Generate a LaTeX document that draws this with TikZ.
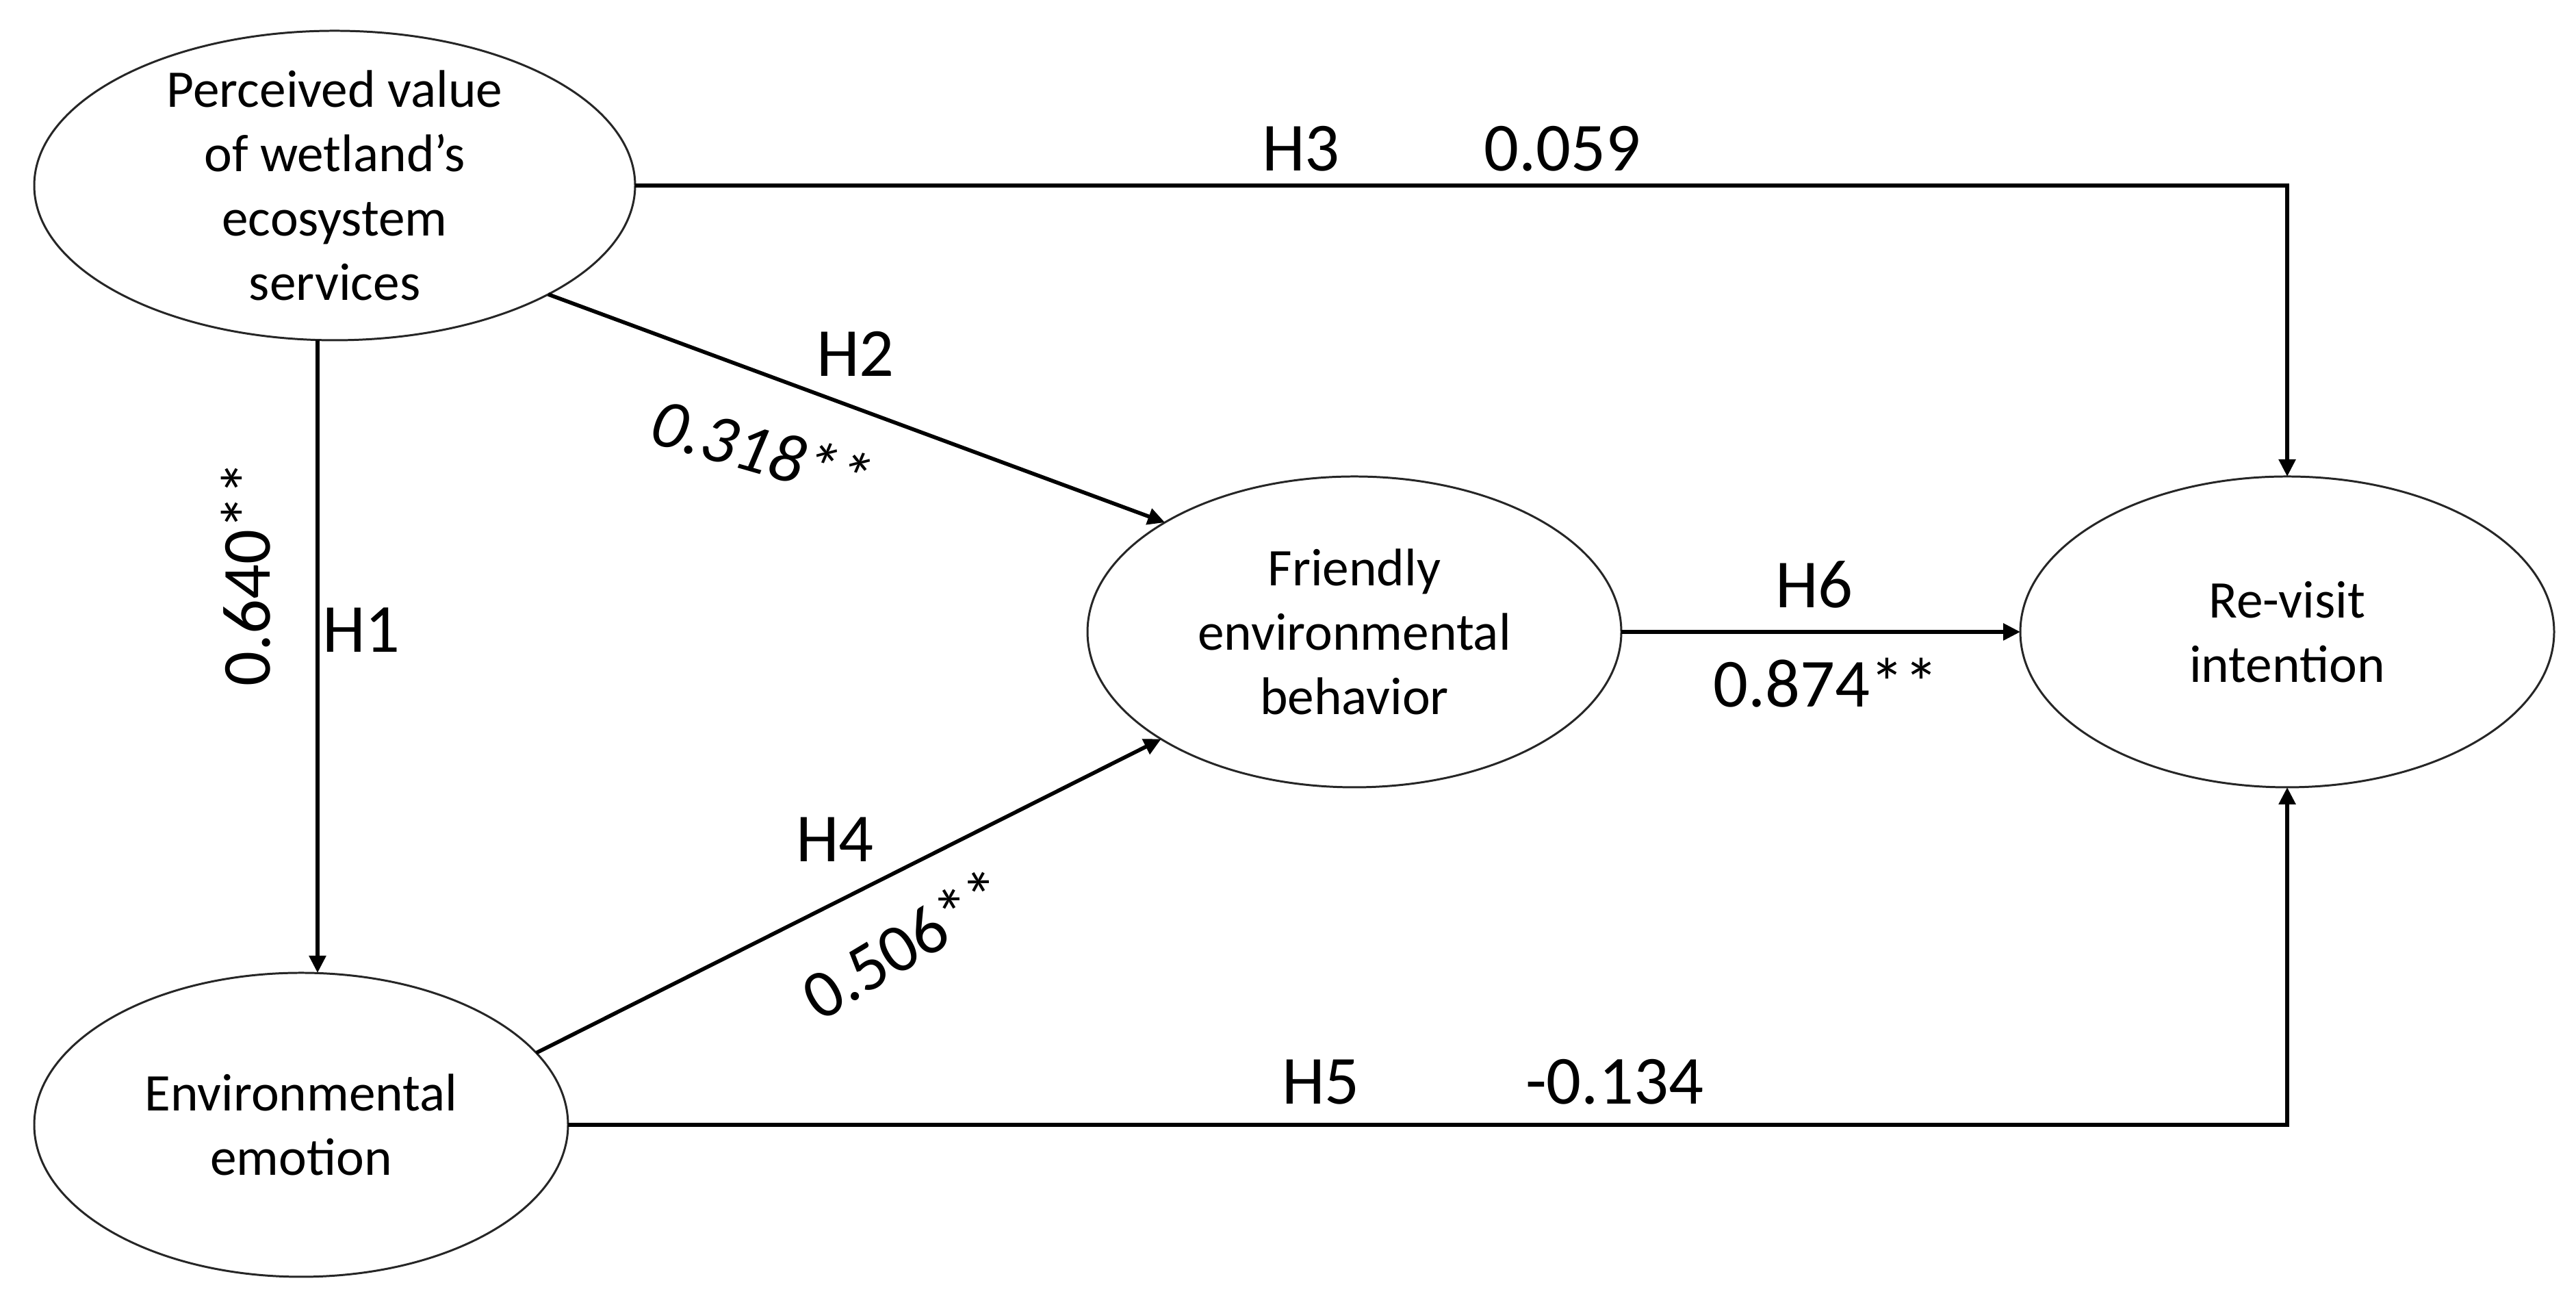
\documentclass[tikz,border=0pt]{standalone}
\usepackage{fontspec}
\setmainfont{Carlito}
\usetikzlibrary{arrows.meta,shapes.geometric}
\tikzset{
  latent/.style={draw=black!85, line width=0.85pt, ellipse, inner sep=0pt, outer sep=0pt, minimum width=7.8cm},
  nodetext/.style={align=center, inner sep=0pt, font=\fontsize{22}{26.7}\selectfont},
  lbl/.style={inner sep=0pt, font=\fontsize{28.6}{34}\selectfont},
  conn/.style={line width=1.6pt, -{Triangle[length=0.25cm,width=0.24cm]}}
}
\begin{document}
\begin{tikzpicture}
\useasboundingbox[fill=white] (0,0) rectangle (37.64,19.12);
% latent variables
\node[latent, minimum width=8.78cm, minimum height=4.52cm] (A) at (4.89,16.41) {};
\node[latent, minimum height=4.44cm] (B) at (4.40,2.69) {};
\node[latent, minimum height=4.54cm] (C) at (19.79,9.89) {};
\node[latent, minimum height=4.54cm] (D) at (33.42,9.89) {};
\node[nodetext] (At) at (A) {Perceived value\\of wetland’s\\ecosystem\\services};
\node[nodetext] (Bt) at (B) {Environmental\\emotion};
\node[nodetext] (Ct) at (C) {Friendly\\environmental\\behavior};
\node[nodetext] (Dt) at (D) {Re-visit\\intention};
% connectors
\draw[conn] ([xshift=-2.5mm]A.south) -- ([xshift=-2.5mm]A.south |- B.north);
\draw[conn] (A.-27.1) -- (C.150);
\draw[conn] (B.17.4) -- (C.-151.1);
\draw[conn] (A.east) -| (D.north);
\draw[conn] (B.east) -| (D.south);
\draw[conn] (C.east) -- (D.west);
% labels
\node[lbl, anchor=base] (h3) at (19.01,16.62) {H3};
\node[lbl, anchor=base] (v3) at (22.83,16.62) {0.059};
\node[lbl, anchor=base] (h2) at (12.50,13.62) {H2};
\node[lbl, rotate=-16, font=\fontsize{28.6}{34}\selectfont\itshape] (v2) at (11.13,12.55) {0.318**};
\node[lbl, anchor=base] (h1) at (5.28,9.59) {H1};
\node[lbl, rotate=90] (v1) at (3.59,10.74) {0.640**};
\node[lbl, anchor=base] (h4) at (12.20,6.53) {H4};
\node[lbl, rotate=31] (v4) at (13.21,5.34) {0.506**};
\node[lbl, anchor=base] (h5) at (19.30,2.99) {H5};
\node[lbl, anchor=base] (v5) at (23.59,2.99) {-0.134};
\node[lbl, anchor=base] (h6) at (26.51,10.24) {H6};
\node[lbl, anchor=base] (v6) at (26.68,8.79) {0.874**};
\end{tikzpicture}
\end{document}
